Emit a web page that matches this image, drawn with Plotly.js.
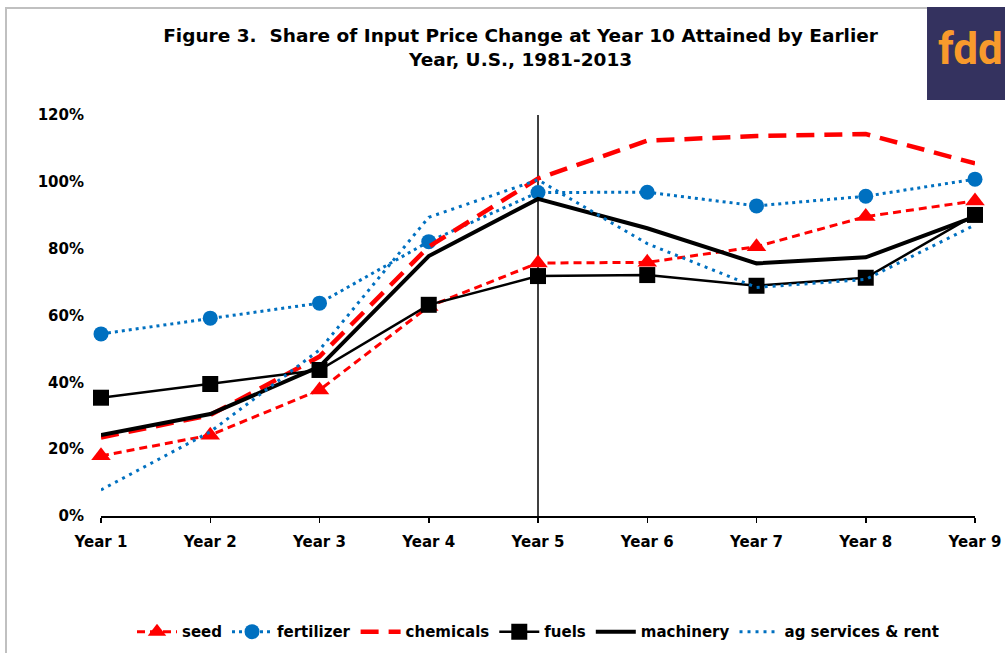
<!DOCTYPE html>
<html>
<head>
<meta charset="utf-8">
<script src="https://cdn.plot.ly/plotly-3.0.1.min.js"></script>
<style>
html,body{margin:0;padding:0;background:#fff;}
#chart{width:1005px;height:653px;}
</style>
</head>
<body>
<div id="chart"></div>
<script>
const years = ["Year 1","Year 2","Year 3","Year 4","Year 5","Year 6","Year 7","Year 8","Year 9"];
const seed       = [18.0, 24.2, 37.7, 62.7, 75.7, 75.9, 80.6, 89.6, 94.3];
const fertilizer = [54.5, 59.2, 63.7, 82.1, 96.8, 96.9, 92.8, 95.7, 100.8];
const chemicals  = [23.5, 30.2, 47.7, 80.6, 101.0, 112.3, 113.7, 114.3, 105.5];
const fuels      = [35.4, 39.5, 43.7, 63.2, 71.8, 72.1, 68.9, 71.3, 90.1];
const machinery  = [24.2, 30.5, 44.7, 77.8, 94.9, 86.1, 75.6, 77.4, 89.6];
const agServices = [7.8, 25.2, 49.7, 89.4, 100.6, 81.5, 68.4, 70.8, 87.1];
const yTicks = [0, 20, 40, 60, 80, 100, 120];

const FONT = "'DejaVu Sans', sans-serif";
const RED = "#ff0000", BLUE = "#0070c0", BLACK = "#000000";

const traces = [
  {name:"seed", x:years, y:seed, mode:"lines+markers", cliponaxis:false,
   line:{color:RED, width:3, dash:"8px,5px"},
   marker:{symbol:"triangle-up", size:17, color:RED}},
  {name:"fertilizer", x:years, y:fertilizer, mode:"lines+markers", cliponaxis:false,
   line:{color:BLUE, width:3, dash:"3px,4px"},
   marker:{symbol:"circle", size:15, color:BLUE}},
  {name:"chemicals", x:years, y:chemicals, mode:"lines", cliponaxis:false,
   line:{color:RED, width:4.5, dash:"18px,10px"}},
  {name:"fuels", x:years, y:fuels, mode:"lines+markers", cliponaxis:false,
   line:{color:BLACK, width:2.5},
   marker:{symbol:"square", size:16, color:BLACK}},
  {name:"machinery", x:years, y:machinery, mode:"lines", cliponaxis:false,
   line:{color:BLACK, width:4}},
  {name:"ag services & rent", x:years, y:agServices, mode:"lines", cliponaxis:false,
   line:{color:BLUE, width:3, dash:"3px,5px"}}
];

const layout = {
  width:1005, height:653,
  margin:{l:101, r:30, t:115, b:137, autoexpand:false},
  paper_bgcolor:"#ffffff", plot_bgcolor:"#ffffff",
  font:{family:FONT, color:"#000"},
  title:{text:"<b>Figure 3.  Share of Input Price Change at Year 10 Attained by Earlier<br>Year, U.S., 1981-2013</b>",
         font:{family:FONT, size:18.5, color:"#000"}, x:0.518, xanchor:"center", y:0.935, yanchor:"top"},
  xaxis:{type:"category", range:[0,8], showgrid:false, zeroline:false,
         showline:true, linecolor:"#000", linewidth:1.5,
         ticks:"outside", ticklen:5, tickwidth:1.5, tickcolor:"#000",
         ticklabelstandoff:6,
         tickfont:{family:FONT, size:15, color:"#000", weight:"bold"}},
  xaxis2:{type:"linear", overlaying:"x", anchor:"y", side:"bottom", range:[0,8],
          tickmode:"linear", tick0:0, dtick:1, showgrid:false, zeroline:false,
          showline:false, showticklabels:false,
          ticks:"inside", ticklen:5, tickwidth:1.5, tickcolor:"#000"},
  yaxis:{range:[0,120], tickvals:yTicks, ticktext:yTicks.map(v=>v+"%"),
         showgrid:false, zeroline:false, showline:false, ticks:"",
         ticklabelstandoff:16,
         tickfont:{family:FONT, size:15, color:"#000", weight:"bold"}},
  showlegend:true,
  legend:{orientation:"h", x:0.5, xanchor:"center", y:-0.289, yanchor:"middle",
          font:{family:FONT, size:15, color:"#000", weight:"bold"},
          traceorder:"normal", itemwidth:40, bgcolor:"rgba(0,0,0,0)"},
  shapes:[
    {type:"line", xref:"x", yref:"y", x0:4, x1:4, y0:0, y1:120, layer:"below",
     line:{color:"#000", width:1.5}},
    {type:"rect", xref:"paper", yref:"paper", x0:-0.1087, x1:1.1, y0:-0.5, y1:1.2668,
     line:{color:"#c0c0c0", width:2}, fillcolor:"rgba(0,0,0,0)", layer:"below"},
    {type:"rect", xref:"paper", yref:"paper", x0:0.9451, x1:1.04, y0:1.0374, y1:1.2693,
     line:{width:0}, fillcolor:"#34325f", layer:"above"}
  ],
  annotations:[
    {xref:"paper", yref:"paper", x:0.9554, y:1.165, xanchor:"left", yanchor:"middle",
     text:"fdd", showarrow:false,
     font:{family:"Roboto, sans-serif", size:44, color:"#f89a2c", weight:"bold"}}
  ]
};

Plotly.newPlot("chart", traces, layout, {displayModeBar:false, staticPlot:true});
</script>
</body>
</html>
